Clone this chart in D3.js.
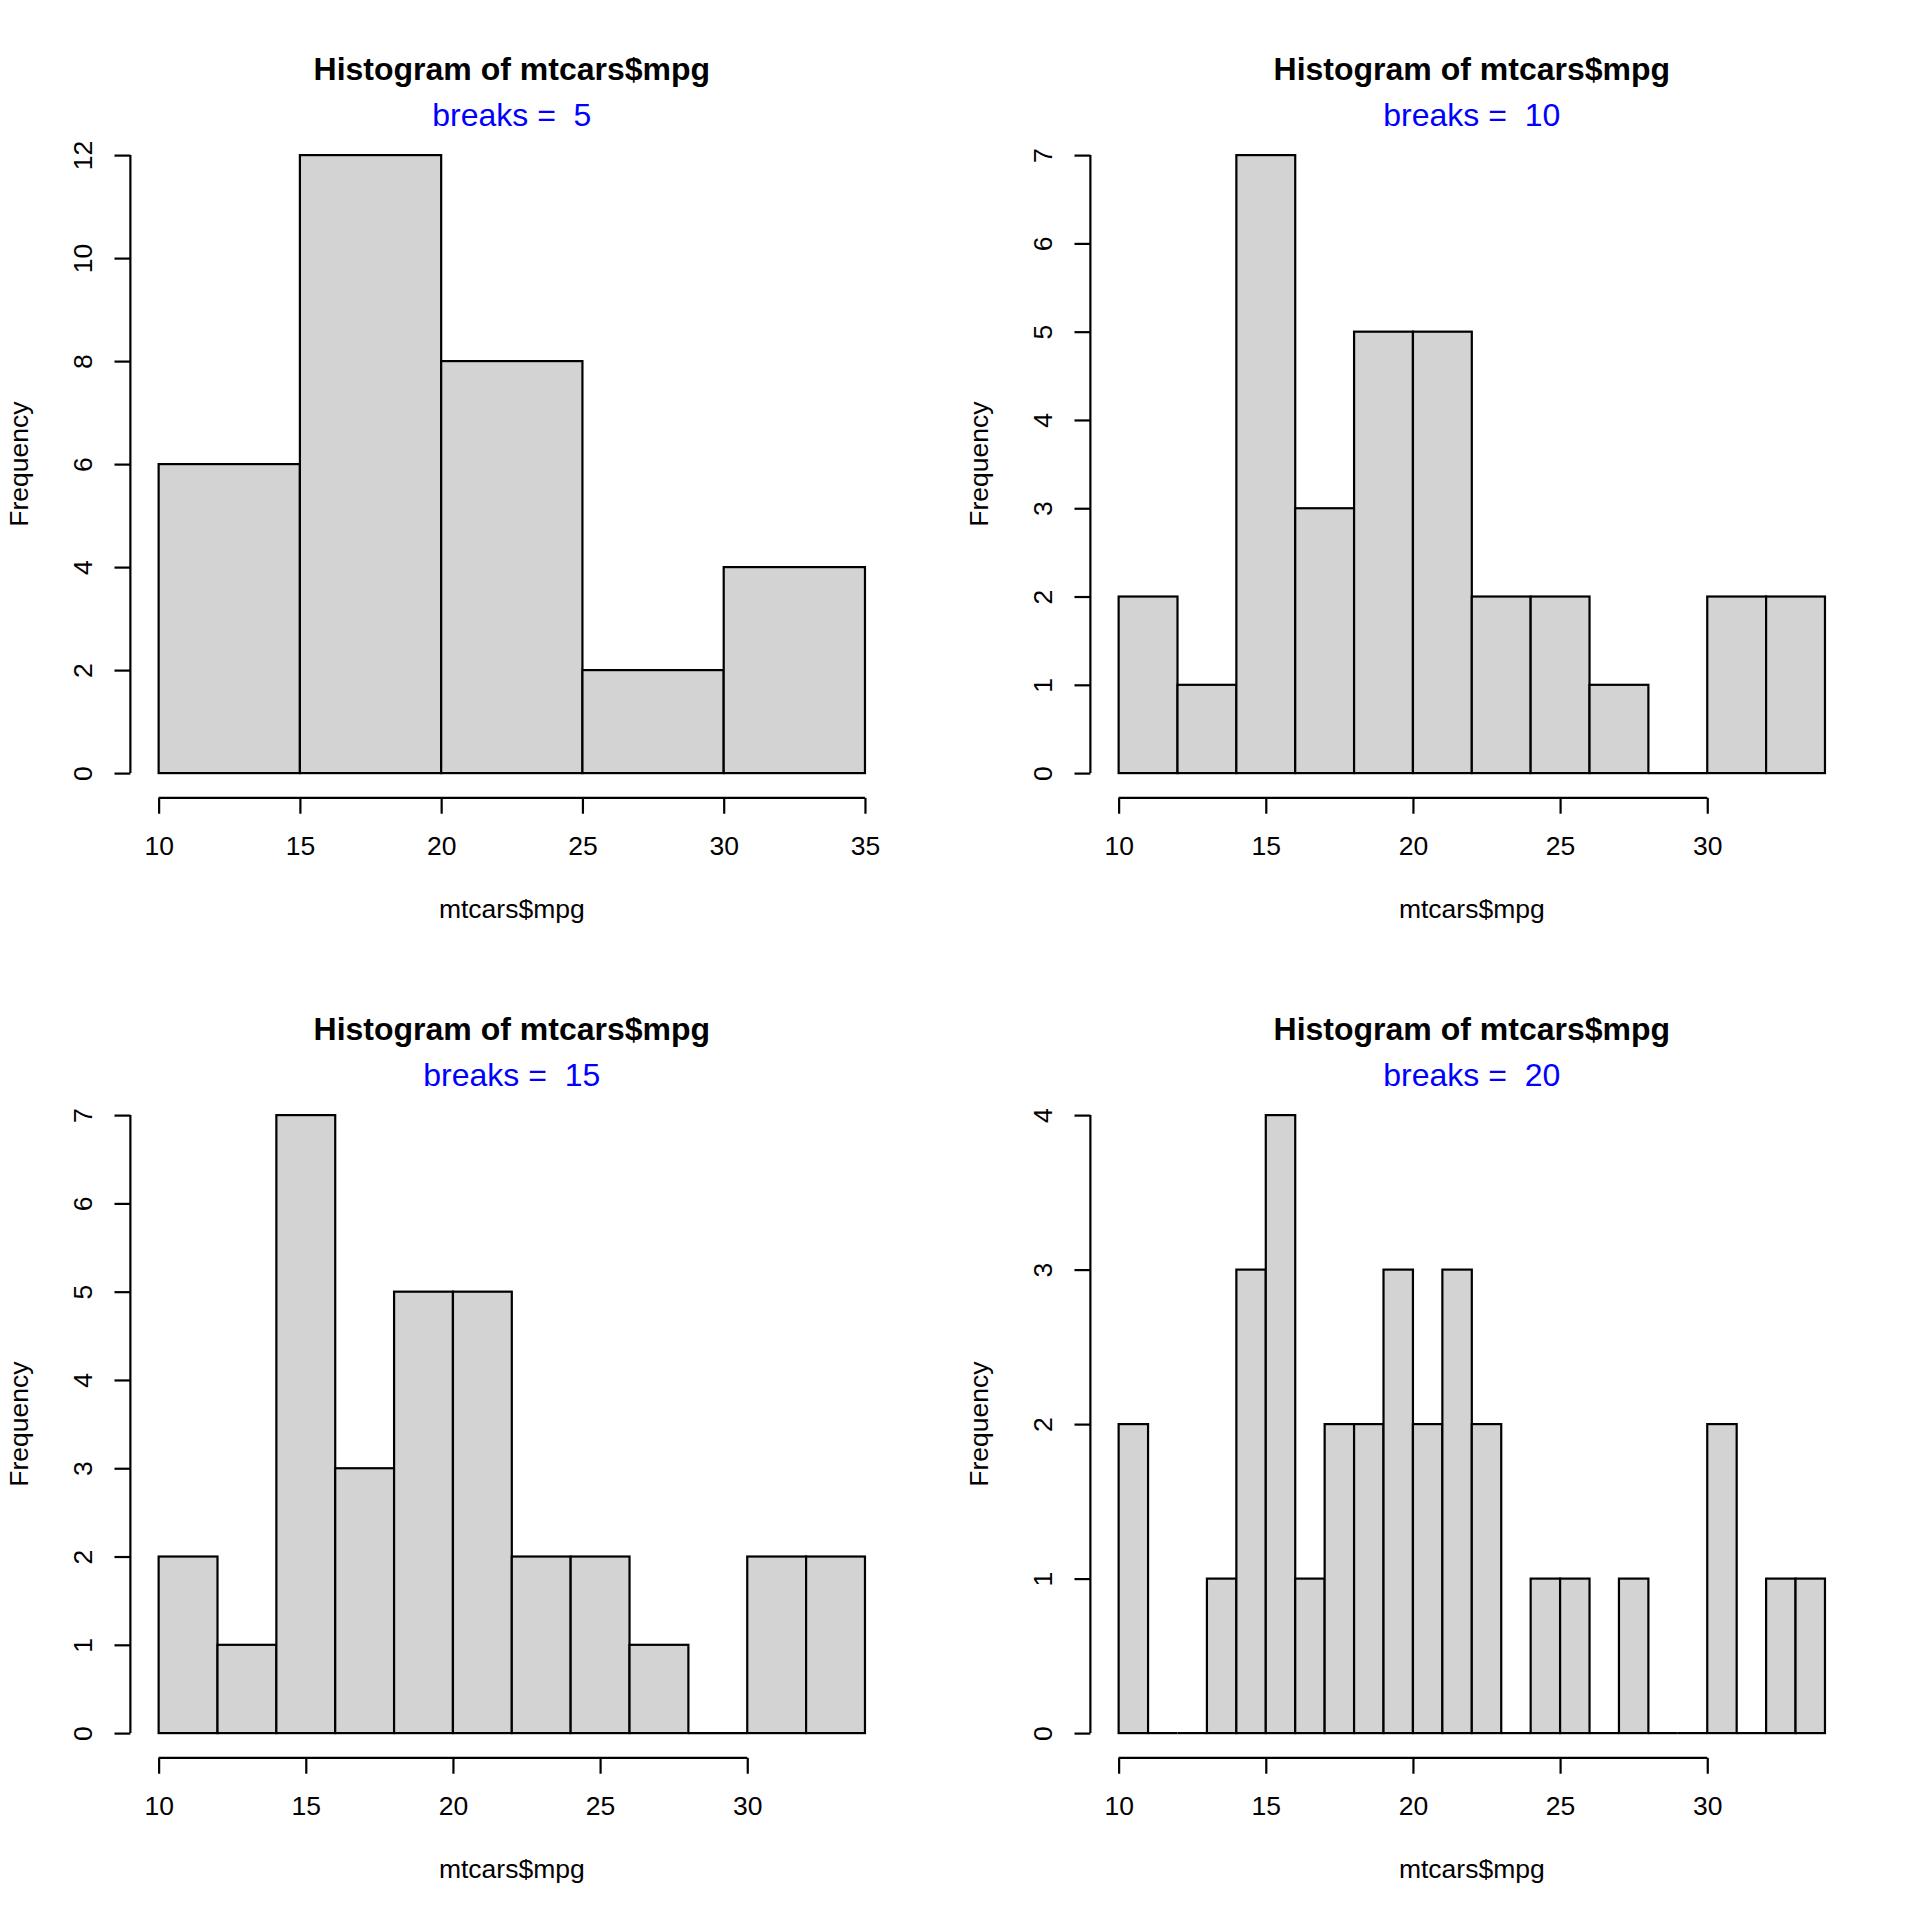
<!DOCTYPE html>
<html>
<head>
<meta charset="utf-8">
<script src="https://cdn.jsdelivr.net/npm/d3@7"></script>
<style>
  body { margin: 0; background: #fff; }
  text { font-family: "Liberation Sans", Arial, sans-serif; }
</style>
</head>
<body>
<script>
// histogram data (mtcars$mpg with different breaks)
var breaks5  = [10, 15, 20, 25, 30, 35];
var counts5  = [6, 12, 8, 2, 4];
var xTicks5  = [10, 15, 20, 25, 30, 35];
var yTicks5  = [0, 2, 4, 6, 8, 10, 12];

var breaks10 = [10, 12, 14, 16, 18, 20, 22, 24, 26, 28, 30, 32, 34];
var counts10 = [2, 1, 7, 3, 5, 5, 2, 2, 1, 0, 2, 2];
var xTicks10 = [10, 15, 20, 25, 30];
var yTicks10 = [0, 1, 2, 3, 4, 5, 6, 7];

var breaks15 = [10, 12, 14, 16, 18, 20, 22, 24, 26, 28, 30, 32, 34];
var counts15 = [2, 1, 7, 3, 5, 5, 2, 2, 1, 0, 2, 2];
var xTicks15 = [10, 15, 20, 25, 30];
var yTicks15 = [0, 1, 2, 3, 4, 5, 6, 7];

var breaks20 = [10, 11, 12, 13, 14, 15, 16, 17, 18, 19, 20, 21, 22, 23, 24, 25, 26, 27, 28, 29, 30, 31, 32, 33, 34];
var counts20 = [2, 0, 0, 1, 3, 4, 1, 2, 2, 3, 2, 3, 2, 0, 1, 1, 0, 1, 0, 0, 2, 0, 1, 1];
var xTicks20 = [10, 15, 20, 25, 30];
var yTicks20 = [0, 1, 2, 3, 4];

var breakLabels = [5, 10, 15, 20];

var panels = [
  {breaks: breaks5,  counts: counts5,  xTicks: xTicks5,  yTicks: yTicks5,  label: breakLabels[0]},
  {breaks: breaks10, counts: counts10, xTicks: xTicks10, yTicks: yTicks10, label: breakLabels[1]},
  {breaks: breaks15, counts: counts15, xTicks: xTicks15, yTicks: yTicks15, label: breakLabels[2]},
  {breaks: breaks20, counts: counts20, xTicks: xTicks20, yTicks: yTicks20, label: breakLabels[3]}
];

var W = 1920, H = 1920, P = 960;
var L = 31.8;           // one margin line
var lw = 2.2;
var axisFont = 26.5, titleFont = 32;
var fmt = d3.format("d");

var svg = d3.select("body").append("svg")
  .attr("width", W)
  .attr("height", H);

panels.forEach(function(p, i) {
  var ox = (i % 2) * P, oy = Math.floor(i / 2) * P;
  var left = 4.1 * L, right = P - 2.1 * L, top = 4.1 * L, bottom = P - 5.1 * L;

  // R style 4% extension of the ranges
  var x0 = p.breaks[0], x1 = p.breaks[p.breaks.length - 1];
  var ymax = d3.max(p.counts);
  var dx = (x1 - x0) * 0.04, dy = ymax * 0.04;

  var x = d3.scaleLinear().domain([x0 - dx, x1 + dx]).range([left, right]);
  var y = d3.scaleLinear().domain([-dy, ymax + dy]).range([bottom, top]);

  var g = svg.append("g").attr("transform", "translate(" + ox + "," + oy + ")");

  var bins = p.counts.map(function(c, j) {
    return {x0: p.breaks[j], x1: p.breaks[j + 1], n: c};
  });

  g.selectAll("rect.bar").data(bins.filter(function(d) { return d.n > 0; })).enter().append("rect")
    .attr("class", "bar")
    .attr("x", function(d) { return x(d.x0); })
    .attr("width", function(d) { return x(d.x1) - x(d.x0); })
    .attr("y", function(d) { return y(d.n); })
    .attr("height", function(d) { return y(0) - y(d.n); })
    .attr("fill", "#d3d3d3")
    .attr("stroke", "#000")
    .attr("stroke-width", lw);

  // empty bins still leave their bottom edge, like R
  g.selectAll("line.empty").data(bins.filter(function(d) { return d.n === 0; })).enter().append("line")
    .attr("class", "empty")
    .attr("x1", function(d) { return x(d.x0); })
    .attr("x2", function(d) { return x(d.x1); })
    .attr("y1", y(0))
    .attr("y2", y(0))
    .attr("stroke", "#000")
    .attr("stroke-width", lw);

  // x axis
  var xa = g.append("g")
    .attr("transform", "translate(0," + bottom + ")")
    .call(d3.axisBottom(x).tickValues(p.xTicks).tickFormat(fmt).tickSize(0.5 * L).tickSizeOuter(0));
  xa.select(".domain")
    .attr("d", "M" + x(p.xTicks[0]) + ",0H" + x(p.xTicks[p.xTicks.length - 1]));
  xa.selectAll("text")
    .attr("y", 1.5 * L)
    .attr("dy", "0.35em")
    .attr("font-size", axisFont)
    .attr("font-family", "Liberation Sans, Arial, sans-serif")
    .attr("fill", "#000");

  // y axis
  var ya = g.append("g")
    .attr("transform", "translate(" + left + ",0)")
    .call(d3.axisLeft(y).tickValues(p.yTicks).tickFormat(fmt).tickSize(0.5 * L).tickSizeOuter(0));
  ya.select(".domain")
    .attr("d", "M0," + y(p.yTicks[0]) + "V" + y(p.yTicks[p.yTicks.length - 1]));
  ya.selectAll("text")
    .attr("x", null)
    .attr("dy", null)
    .attr("transform", "translate(" + (-1.5 * L) + ",0) rotate(-90)")
    .attr("text-anchor", "middle")
    .attr("dominant-baseline", "central")
    .attr("font-size", axisFont)
    .attr("font-family", "Liberation Sans, Arial, sans-serif")
    .attr("fill", "#000");

  svg.selectAll(".domain, .tick line")
    .attr("stroke", "#000")
    .attr("stroke-width", lw);

  var cx = (left + right) / 2, cy = (top + bottom) / 2;

  g.append("text")
    .attr("x", cx).attr("y", 68.3).attr("dy", "0.35em")
    .attr("text-anchor", "middle")
    .attr("font-size", titleFont)
    .attr("font-weight", "bold")
    .text("Histogram of mtcars$mpg");

  g.append("text")
    .attr("x", cx).attr("y", 115).attr("dy", "0.35em")
    .attr("text-anchor", "middle")
    .attr("font-size", titleFont)
    .attr("fill", "#0000ff")
    .attr("xml:space", "preserve")
    .style("white-space", "pre")
    .text("breaks =  " + p.label);

  g.append("text")
    .attr("x", cx).attr("y", bottom + 3.5 * L).attr("dy", "0.35em")
    .attr("text-anchor", "middle")
    .attr("font-size", axisFont)
    .text("mtcars$mpg");

  g.append("text")
    .attr("transform", "translate(" + (left - 3.5 * L) + "," + cy + ") rotate(-90)")
    .attr("text-anchor", "middle")
    .attr("dominant-baseline", "central")
    .attr("font-size", axisFont)
    .text("Frequency");
});
</script>
</body>
</html>
